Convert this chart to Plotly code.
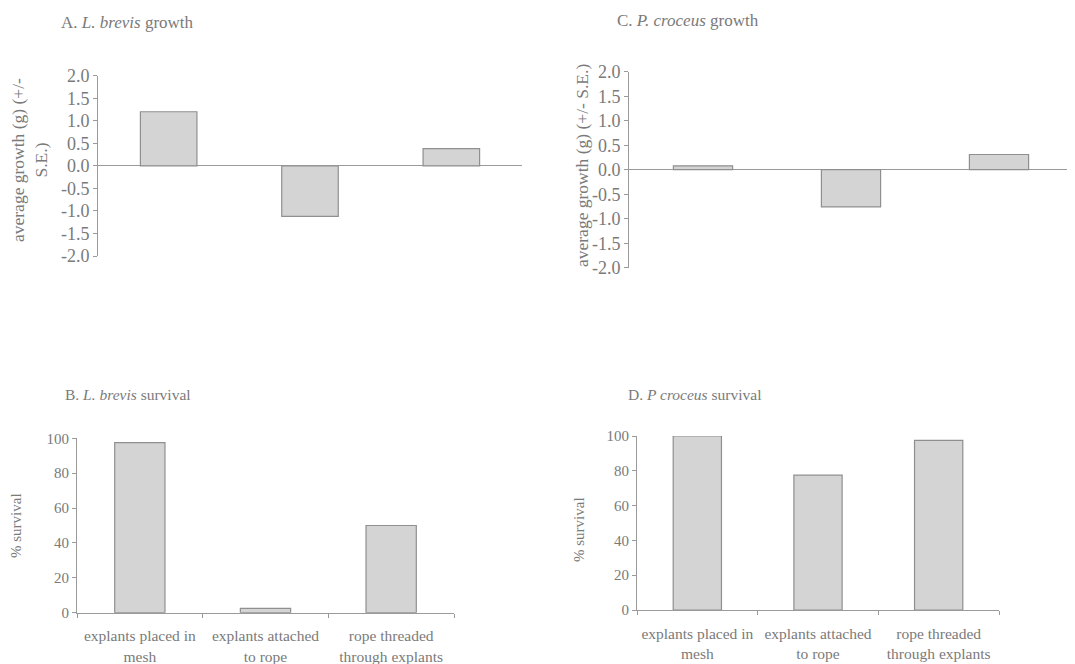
import plotly.graph_objects as go

categories = ["explants placed in<br>mesh", "explants attached<br>to rope", "rope threaded<br>through explants"]
lb_growth = [1.2, -1.12, 0.38]
pc_growth = [0.08, -0.76, 0.31]
lb_survival = [97.5, 2.5, 50]
pc_survival = [100, 77.5, 97.5]
growth_ticks = [2.0, 1.5, 1.0, 0.5, 0.0, -0.5, -1.0, -1.5, -2.0]
survival_ticks = [0, 20, 40, 60, 80, 100]

OFF = 8  # page body margin
W, H = 1075 - OFF, 664 - OFF
FONT = "Liberation Serif"
TXT = "#7a7a7a"
AX = "#9a9a9a"
FILL = "#d4d4d4"
EDGE = "#8f8f8f"

def px_x(a, b):
    return [(a - OFF) / W, (b - OFF) / W]

def px_y(top, bottom):
    return [(H - (bottom - OFF)) / H, (H - (top - OFF)) / H]

fig = go.Figure()

bar_style = dict(marker=dict(color=FILL, line=dict(color=EDGE, width=1.2)), width=0.4, showlegend=False, hoverinfo="skip")

fig.add_trace(go.Bar(x=categories, y=lb_growth, xaxis="x", yaxis="y", **bar_style))
fig.add_trace(go.Bar(x=categories, y=pc_growth, xaxis="x2", yaxis="y2", **bar_style))
fig.add_trace(go.Bar(x=categories, y=lb_survival, xaxis="x3", yaxis="y3", **bar_style))
fig.add_trace(go.Bar(x=categories, y=pc_survival, xaxis="x4", yaxis="y4", **bar_style))

growth_y = dict(range=[-2, 2], tickvals=growth_ticks, ticktext=[f"{v:.1f}" for v in growth_ticks],
                showline=True, linecolor=AX, linewidth=1, ticks="outside", ticklen=4, tickcolor=AX,
                showgrid=False, zeroline=True, zerolinecolor=AX, zerolinewidth=1.2, automargin=False,
                tickfont=dict(family=FONT, size=18, color=TXT), fixedrange=True)
growth_x = dict(showticklabels=False, showline=False, ticks="", showgrid=False, zeroline=False,
                automargin=False, fixedrange=True)

surv_y = dict(range=[0, 100], tickvals=survival_ticks, showline=True, linecolor=AX, linewidth=1,
              ticks="outside", ticklen=4, tickcolor=AX, showgrid=False, zeroline=False, automargin=False,
              tickfont=dict(family=FONT, size=15, color=TXT), fixedrange=True)
surv_x = dict(showline=True, linecolor=AX, linewidth=1.2, ticks="outside", tickson="boundaries", ticklen=4,
              tickcolor=AX, showgrid=False, zeroline=False, tickangle=0, automargin=False,
              ticklabelstandoff=9,
              tickfont=dict(family=FONT, size=15.5, color=TXT), fixedrange=True)

fig.update_layout(
    width=W, height=H, margin=dict(l=0, r=0, t=0, b=0, autoexpand=False),
    paper_bgcolor="white", plot_bgcolor="white",
    xaxis=dict(domain=px_x(98, 522), anchor="y", **growth_x),
    yaxis=dict(domain=px_y(75.7, 256), anchor="x", **growth_y),
    xaxis2=dict(domain=px_x(629, 1073), anchor="y2", **growth_x),
    yaxis2=dict(domain=px_y(71.7, 267.7), anchor="x2", **growth_y),
    xaxis3=dict(domain=px_x(77, 454), anchor="y3", **surv_x),
    yaxis3=dict(domain=px_y(438.3, 612.7), anchor="x3", **surv_y),
    xaxis4=dict(domain=px_x(637, 999), anchor="y4", **surv_x),
    yaxis4=dict(domain=px_y(436, 610), anchor="x4", **surv_y),
    bargap=0.6,
)

def ann(text, x, y, size, angle=0, xanchor="left"):
    fig.add_annotation(text=text, x=(x - OFF) / W, y=(H - (y - OFF)) / H, xref="paper", yref="paper",
                       showarrow=False, textangle=angle, xanchor=xanchor, yanchor="middle",
                       font=dict(family=FONT, size=size, color=TXT))

ann("A. <i>L. brevis</i> growth", 59, 22, 17)
ann("C. <i>P. croceus</i> growth", 615, 20, 17)
ann("B. <i>L. brevis</i> survival", 63, 394, 15.5)
ann("D. <i>P croceus</i> survival", 626, 394, 15.5)

ann("average growth (g) (+/-<br>S.E.)", 29, 160, 17.5, angle=-90, xanchor="center")
ann("average growth (g) (+/- S.E.)", 582, 166, 17.5, angle=-90, xanchor="center")
ann("% survival", 16, 526, 15, angle=-90, xanchor="center")
ann("% survival", 579, 530, 15, angle=-90, xanchor="center")

fig.write_html("out.html")
